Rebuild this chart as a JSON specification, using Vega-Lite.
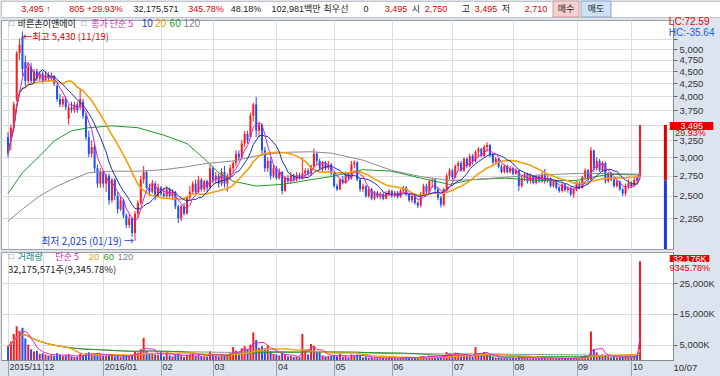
{
"$schema": "https://vega.github.io/schema/vega-lite/v6.json",
"padding": 0,
"background": "#dbe4ef",
"spacing": 3,
"bounds": "flush",
"config": {
  "view": {"stroke": "#a0a0a0", "fill": "#ffffff"},
  "font": "Liberation Sans, Noto Sans CJK KR",
  "text": {"font": "Liberation Sans, Noto Sans CJK KR"},
  "axis": {"labelFont": "Liberation Sans", "labelFontSize": 10, "labelColor": "#333333", "gridColor": "#dcdcdc", "domainColor": "#8a8a8a", "tickColor": "#666666", "labelOverlap": false, "labelFlush": false}
},
"datasets": {
"hdr": [
{"n":3,"s":"3,495 ↑","r":1,"btn":""},
{"n":9,"s":"805 +29.93%","r":1,"btn":""},
{"n":15,"s":"32,175,571","r":0,"btn":""},
{"n":20,"s":"345.78%","r":1,"btn":""},
{"n":24,"s":"48.18%","r":0,"btn":""},
{"n":29,"s":"102,981백만","r":0,"btn":""},
{"n":33,"s":"최우선","r":0,"btn":""},
{"n":36,"s":"0","r":0,"btn":""},
{"n":39,"s":"3,495","r":1,"btn":""},
{"n":41,"s":"시","r":0,"btn":""},
{"n":43,"s":"2,750","r":1,"btn":""},
{"n":46,"s":"고","r":0,"btn":""},
{"n":48,"s":"3,495","r":1,"btn":""},
{"n":50,"s":"저","r":0,"btn":""},
{"n":53,"s":"2,710","r":1,"btn":""},
{"n":56,"s":"매수","r":0,"btn":"buy"},
{"n":59,"s":"매도","r":0,"btn":"sell"}
],
"ma": [
{"i":0,"m60":2530,"m120":2220},{"i":5,"m60":2790,"m120":2350},{"i":11,"m60":3020,"m120":2500},{"i":16,"m60":3240,"m120":2600},{"i":22,"m60":3400,"m120":2700},{"i":28,"m60":3450,"m120":2790},{"i":36,"m60":3480,"m120":2810},{"i":45,"m60":3450,"m120":2810},{"i":54,"m60":3330,"m120":2830},{"i":62,"m60":3200,"m120":2870},{"i":68,"m60":2980,"m120":2910},{"i":73,"m60":2790,"m120":2930},{"i":78,"m60":2680,"m120":2950},{"i":86,"m60":2620,"m120":3020},{"i":95,"m60":2640,"m120":3070},{"i":105,"m60":2700,"m120":3080},{"i":112,"m60":2740,"m120":3060},{"i":123,"m60":2830,"m120":2960},{"i":133,"m60":2810,"m120":2820},{"i":143,"m60":2720,"m120":2740},{"i":153,"m60":2640,"m120":2690},{"i":161,"m60":2700,"m120":2700},{"i":172,"m60":2720,"m120":2730},{"i":184,"m60":2690,"m120":2760},{"i":197,"m60":2690,"m120":2780},{"i":208,"m60":2770,"m120":2780},{"i":219,"m60":2760,"m120":2770}
],
"px": [
{"i":0,"o":3300,"h":3380,"l":3000,"c":3050,"v":4500},
{"i":1,"o":3250,"h":3500,"l":3100,"c":3450,"v":6000},
{"i":2,"o":3450,"h":3900,"l":3400,"c":3850,"v":8500},
{"i":3,"o":3950,"h":4950,"l":3900,"c":4900,"v":11000},
{"i":4,"o":4900,"h":5250,"l":4750,"c":5100,"v":9500},
{"i":5,"o":5300,"h":5430,"l":4400,"c":4550,"v":10500},
{"i":6,"o":4700,"h":4850,"l":4200,"c":4300,"v":7000},
{"i":7,"o":4300,"h":4700,"l":4250,"c":4600,"v":5000},
{"i":8,"o":4600,"h":4680,"l":4250,"c":4300,"v":3500},
{"i":9,"o":4300,"h":4550,"l":4250,"c":4500,"v":2800},
{"i":10,"o":4500,"h":4550,"l":4300,"c":4350,"v":3000},
{"i":11,"o":4350,"h":4500,"l":4300,"c":4450,"v":2000},
{"i":12,"o":4450,"h":4500,"l":4250,"c":4300,"v":2200},
{"i":13,"o":4300,"h":4500,"l":4280,"c":4420,"v":1800},
{"i":14,"o":4420,"h":4480,"l":4300,"c":4350,"v":1500},
{"i":15,"o":4350,"h":4480,"l":4300,"c":4400,"v":1600},
{"i":16,"o":4400,"h":4420,"l":4200,"c":4250,"v":1400},
{"i":17,"o":4200,"h":4250,"l":3900,"c":3950,"v":2200},
{"i":18,"o":3950,"h":4050,"l":3800,"c":3850,"v":1600},
{"i":19,"o":3850,"h":4000,"l":3800,"c":3950,"v":1300},
{"i":20,"o":3950,"h":4000,"l":3750,"c":3800,"v":1500},
{"i":21,"o":3600,"h":3850,"l":3500,"c":3800,"v":1800},
{"i":22,"o":3800,"h":3900,"l":3700,"c":3750,"v":1200},
{"i":23,"o":3750,"h":3900,"l":3700,"c":3850,"v":1000},
{"i":24,"o":3850,"h":3900,"l":3700,"c":3750,"v":1100},
{"i":25,"o":3800,"h":4150,"l":3750,"c":3950,"v":2000},
{"i":26,"o":3900,"h":3950,"l":3600,"c":3650,"v":1500},
{"i":27,"o":3650,"h":3700,"l":3250,"c":3300,"v":2200},
{"i":28,"o":3300,"h":3400,"l":3000,"c":3050,"v":2500},
{"i":29,"o":3050,"h":3250,"l":3000,"c":3150,"v":1800},
{"i":30,"o":3150,"h":3200,"l":2800,"c":2850,"v":2000},
{"i":31,"o":2850,"h":2900,"l":2600,"c":2650,"v":2300},
{"i":32,"o":2650,"h":2850,"l":2600,"c":2800,"v":1600},
{"i":33,"o":2800,"h":2820,"l":2600,"c":2650,"v":1500},
{"i":34,"o":2650,"h":2780,"l":2550,"c":2750,"v":1400},
{"i":35,"o":2750,"h":2780,"l":2400,"c":2450,"v":1600},
{"i":36,"o":2450,"h":2720,"l":2420,"c":2700,"v":1800},
{"i":37,"o":2700,"h":2720,"l":2450,"c":2500,"v":1200},
{"i":38,"o":2500,"h":2550,"l":2300,"c":2350,"v":1300},
{"i":39,"o":2350,"h":2500,"l":2330,"c":2450,"v":1100},
{"i":40,"o":2450,"h":2470,"l":2250,"c":2280,"v":1400},
{"i":41,"o":2280,"h":2300,"l":2150,"c":2180,"v":1600},
{"i":42,"o":2180,"h":2300,"l":2150,"c":2250,"v":1300},
{"i":43,"o":2250,"h":2260,"l":2060,"c":2100,"v":1700},
{"i":44,"o":2100,"h":2330,"l":2025,"c":2300,"v":2800},
{"i":45,"o":2300,"h":2450,"l":2250,"c":2420,"v":2400},
{"i":46,"o":2420,"h":2750,"l":2400,"c":2700,"v":3500},
{"i":47,"o":2700,"h":2880,"l":2650,"c":2800,"v":7200},
{"i":48,"o":2800,"h":2820,"l":2580,"c":2600,"v":3000},
{"i":49,"o":2600,"h":2650,"l":2500,"c":2550,"v":2000},
{"i":50,"o":2550,"h":2700,"l":2530,"c":2650,"v":2300},
{"i":51,"o":2650,"h":2680,"l":2450,"c":2500,"v":1800},
{"i":52,"o":2500,"h":2650,"l":2480,"c":2600,"v":1700},
{"i":53,"o":2600,"h":2620,"l":2500,"c":2530,"v":2800},
{"i":54,"o":2530,"h":2600,"l":2480,"c":2500,"v":1200},
{"i":55,"o":2500,"h":2620,"l":2480,"c":2580,"v":2600},
{"i":56,"o":2580,"h":2600,"l":2480,"c":2500,"v":1500},
{"i":57,"o":2500,"h":2580,"l":2450,"c":2550,"v":1200},
{"i":58,"o":2550,"h":2560,"l":2350,"c":2380,"v":1800},
{"i":59,"o":2380,"h":2400,"l":2200,"c":2250,"v":2000},
{"i":60,"o":2250,"h":2400,"l":2220,"c":2380,"v":1600},
{"i":61,"o":2380,"h":2420,"l":2280,"c":2300,"v":1000},
{"i":62,"o":2300,"h":2500,"l":2290,"c":2480,"v":1500},
{"i":63,"o":2480,"h":2620,"l":2450,"c":2550,"v":1800},
{"i":64,"o":2550,"h":2680,"l":2520,"c":2650,"v":2600},
{"i":65,"o":2650,"h":2700,"l":2520,"c":2550,"v":1400},
{"i":66,"o":2550,"h":2750,"l":2530,"c":2700,"v":1700},
{"i":67,"o":2700,"h":2720,"l":2550,"c":2580,"v":1300},
{"i":68,"o":2580,"h":2700,"l":2550,"c":2680,"v":1200},
{"i":69,"o":2680,"h":2700,"l":2550,"c":2600,"v":1100},
{"i":70,"o":2600,"h":2900,"l":2580,"c":2850,"v":2800},
{"i":71,"o":2850,"h":2870,"l":2650,"c":2700,"v":1800},
{"i":72,"o":2700,"h":2800,"l":2650,"c":2750,"v":1300},
{"i":73,"o":2750,"h":2780,"l":2600,"c":2650,"v":1200},
{"i":74,"o":2650,"h":2850,"l":2620,"c":2800,"v":1800},
{"i":75,"o":2800,"h":2880,"l":2600,"c":2650,"v":1500},
{"i":76,"o":2650,"h":2780,"l":2550,"c":2750,"v":1400},
{"i":77,"o":2750,"h":2900,"l":2700,"c":2850,"v":2200},
{"i":78,"o":2850,"h":2950,"l":2780,"c":2920,"v":4200},
{"i":79,"o":2920,"h":3100,"l":2880,"c":3050,"v":3000},
{"i":80,"o":3050,"h":3100,"l":2950,"c":3000,"v":2200},
{"i":81,"o":3000,"h":3250,"l":2980,"c":3200,"v":3800},
{"i":82,"o":3200,"h":3400,"l":3150,"c":3350,"v":4500},
{"i":83,"o":3350,"h":3400,"l":3200,"c":3250,"v":3500},
{"i":84,"o":3300,"h":3700,"l":3280,"c":3650,"v":5000},
{"i":85,"o":3650,"h":3880,"l":3550,"c":3850,"v":9000},
{"i":86,"o":3850,"h":3990,"l":3300,"c":3400,"v":6500},
{"i":87,"o":3400,"h":3550,"l":3300,"c":3500,"v":4000},
{"i":88,"o":3500,"h":3520,"l":3050,"c":3100,"v":4500},
{"i":89,"o":3100,"h":3150,"l":2800,"c":2850,"v":3800},
{"i":90,"o":2850,"h":3000,"l":2800,"c":2950,"v":4800},
{"i":91,"o":2950,"h":3000,"l":2700,"c":2750,"v":2800},
{"i":92,"o":2750,"h":2900,"l":2720,"c":2850,"v":2000},
{"i":93,"o":2850,"h":2880,"l":2700,"c":2720,"v":1800},
{"i":94,"o":2720,"h":2850,"l":2700,"c":2800,"v":1500},
{"i":95,"o":2800,"h":2810,"l":2520,"c":2560,"v":2200},
{"i":96,"o":2560,"h":2750,"l":2550,"c":2720,"v":1800},
{"i":97,"o":2720,"h":2760,"l":2650,"c":2680,"v":1200},
{"i":98,"o":2680,"h":2800,"l":2650,"c":2750,"v":1300},
{"i":99,"o":2750,"h":2780,"l":2680,"c":2700,"v":1000},
{"i":100,"o":2700,"h":2800,"l":2680,"c":2760,"v":1100},
{"i":101,"o":2760,"h":2790,"l":2700,"c":2720,"v":900},
{"i":102,"o":2720,"h":3000,"l":2700,"c":2780,"v":8500},
{"i":103,"o":2780,"h":2850,"l":2720,"c":2820,"v":3000},
{"i":104,"o":2820,"h":2850,"l":2750,"c":2780,"v":1800},
{"i":105,"o":2780,"h":2900,"l":2750,"c":2880,"v":5200},
{"i":106,"o":2880,"h":3130,"l":2850,"c":3050,"v":4500},
{"i":107,"o":3050,"h":3080,"l":2900,"c":2950,"v":2500},
{"i":108,"o":2950,"h":2980,"l":2820,"c":2850,"v":2600},
{"i":109,"o":2850,"h":2950,"l":2800,"c":2920,"v":1500},
{"i":110,"o":2920,"h":2950,"l":2820,"c":2850,"v":1200},
{"i":111,"o":2850,"h":2950,"l":2820,"c":2900,"v":1300},
{"i":112,"o":2900,"h":2920,"l":2750,"c":2780,"v":1400},
{"i":113,"o":2780,"h":2800,"l":2600,"c":2620,"v":1600},
{"i":114,"o":2620,"h":2650,"l":2560,"c":2580,"v":1200},
{"i":115,"o":2580,"h":2720,"l":2570,"c":2700,"v":2000},
{"i":116,"o":2700,"h":2750,"l":2640,"c":2660,"v":1100},
{"i":117,"o":2660,"h":2800,"l":2650,"c":2780,"v":1300},
{"i":118,"o":2780,"h":2800,"l":2700,"c":2720,"v":900},
{"i":119,"o":2720,"h":2950,"l":2700,"c":2900,"v":1800},
{"i":120,"o":2900,"h":2960,"l":2850,"c":2930,"v":1500},
{"i":121,"o":2930,"h":2950,"l":2680,"c":2700,"v":1800},
{"i":122,"o":2700,"h":2720,"l":2550,"c":2580,"v":1400},
{"i":123,"o":2580,"h":2650,"l":2550,"c":2620,"v":900},
{"i":124,"o":2620,"h":2630,"l":2480,"c":2500,"v":1100},
{"i":125,"o":2500,"h":2620,"l":2480,"c":2580,"v":800},
{"i":126,"o":2580,"h":2600,"l":2450,"c":2470,"v":900},
{"i":127,"o":2470,"h":2560,"l":2450,"c":2540,"v":700},
{"i":128,"o":2540,"h":2560,"l":2470,"c":2490,"v":600},
{"i":129,"o":2490,"h":2550,"l":2460,"c":2520,"v":600},
{"i":130,"o":2520,"h":2540,"l":2450,"c":2470,"v":700},
{"i":131,"o":2470,"h":2560,"l":2460,"c":2530,"v":600},
{"i":132,"o":2530,"h":2580,"l":2500,"c":2560,"v":800},
{"i":133,"o":2560,"h":2570,"l":2480,"c":2500,"v":700},
{"i":134,"o":2500,"h":2560,"l":2480,"c":2540,"v":600},
{"i":135,"o":2540,"h":2560,"l":2470,"c":2490,"v":500},
{"i":136,"o":2490,"h":2580,"l":2480,"c":2560,"v":700},
{"i":137,"o":2560,"h":2620,"l":2540,"c":2600,"v":900},
{"i":138,"o":2600,"h":2620,"l":2500,"c":2520,"v":800},
{"i":139,"o":2520,"h":2540,"l":2430,"c":2450,"v":700},
{"i":140,"o":2450,"h":2520,"l":2420,"c":2500,"v":600},
{"i":141,"o":2500,"h":2510,"l":2400,"c":2420,"v":700},
{"i":142,"o":2420,"h":2440,"l":2360,"c":2390,"v":900},
{"i":143,"o":2390,"h":2550,"l":2370,"c":2520,"v":1200},
{"i":144,"o":2520,"h":2650,"l":2500,"c":2620,"v":1300},
{"i":145,"o":2620,"h":2650,"l":2520,"c":2550,"v":900},
{"i":146,"o":2550,"h":2700,"l":2530,"c":2680,"v":1400},
{"i":147,"o":2680,"h":2720,"l":2600,"c":2700,"v":1000},
{"i":148,"o":2700,"h":2720,"l":2550,"c":2580,"v":900},
{"i":149,"o":2580,"h":2600,"l":2450,"c":2480,"v":800},
{"i":150,"o":2480,"h":2500,"l":2370,"c":2400,"v":1000},
{"i":151,"o":2400,"h":2600,"l":2380,"c":2580,"v":1500},
{"i":152,"o":2580,"h":2780,"l":2560,"c":2750,"v":2600},
{"i":153,"o":2750,"h":2850,"l":2700,"c":2820,"v":2200},
{"i":154,"o":2820,"h":2840,"l":2700,"c":2730,"v":1500},
{"i":155,"o":2730,"h":2900,"l":2720,"c":2880,"v":2400},
{"i":156,"o":2880,"h":2950,"l":2820,"c":2920,"v":2000},
{"i":157,"o":2920,"h":2950,"l":2800,"c":2820,"v":1200},
{"i":158,"o":2820,"h":3000,"l":2800,"c":2980,"v":1800},
{"i":159,"o":2980,"h":3000,"l":2850,"c":2880,"v":1300},
{"i":160,"o":2880,"h":3050,"l":2860,"c":3020,"v":1600},
{"i":161,"o":3020,"h":3050,"l":2900,"c":2950,"v":1100},
{"i":162,"o":2950,"h":3100,"l":2930,"c":3080,"v":4200},
{"i":163,"o":3080,"h":3150,"l":3000,"c":3120,"v":2000},
{"i":164,"o":3120,"h":3140,"l":3000,"c":3020,"v":1500},
{"i":165,"o":3020,"h":3180,"l":3000,"c":3150,"v":2600},
{"i":166,"o":3150,"h":3220,"l":3080,"c":3180,"v":2000},
{"i":167,"o":3180,"h":3200,"l":3000,"c":3030,"v":1500},
{"i":168,"o":3030,"h":3060,"l":2900,"c":2930,"v":1000},
{"i":169,"o":2930,"h":3000,"l":2900,"c":2980,"v":800},
{"i":170,"o":2980,"h":3000,"l":2850,"c":2870,"v":900},
{"i":171,"o":2870,"h":2900,"l":2780,"c":2800,"v":800},
{"i":172,"o":2800,"h":2900,"l":2780,"c":2880,"v":700},
{"i":173,"o":2880,"h":2900,"l":2780,"c":2800,"v":600},
{"i":174,"o":2800,"h":2880,"l":2780,"c":2850,"v":600},
{"i":175,"o":2850,"h":2870,"l":2760,"c":2780,"v":700},
{"i":176,"o":2780,"h":2850,"l":2760,"c":2820,"v":600},
{"i":177,"o":2820,"h":2830,"l":2560,"c":2620,"v":1200},
{"i":178,"o":2620,"h":2750,"l":2600,"c":2720,"v":900},
{"i":179,"o":2720,"h":2800,"l":2680,"c":2770,"v":800},
{"i":180,"o":2770,"h":2790,"l":2650,"c":2680,"v":700},
{"i":181,"o":2680,"h":2780,"l":2650,"c":2750,"v":600},
{"i":182,"o":2750,"h":2760,"l":2640,"c":2660,"v":600},
{"i":183,"o":2660,"h":2760,"l":2640,"c":2740,"v":500},
{"i":184,"o":2740,"h":2760,"l":2660,"c":2680,"v":500},
{"i":185,"o":2680,"h":2800,"l":2660,"c":2760,"v":700},
{"i":186,"o":2760,"h":2840,"l":2650,"c":2680,"v":900},
{"i":187,"o":2680,"h":2760,"l":2660,"c":2720,"v":500},
{"i":188,"o":2720,"h":2730,"l":2600,"c":2620,"v":600},
{"i":189,"o":2620,"h":2700,"l":2600,"c":2680,"v":500},
{"i":190,"o":2680,"h":2690,"l":2580,"c":2600,"v":500},
{"i":191,"o":2600,"h":2620,"l":2540,"c":2560,"v":600},
{"i":192,"o":2560,"h":2660,"l":2540,"c":2640,"v":500},
{"i":193,"o":2640,"h":2650,"l":2550,"c":2570,"v":400},
{"i":194,"o":2570,"h":2620,"l":2540,"c":2600,"v":400},
{"i":195,"o":2600,"h":2610,"l":2500,"c":2520,"v":600},
{"i":196,"o":2520,"h":2600,"l":2480,"c":2580,"v":700},
{"i":197,"o":2580,"h":2680,"l":2560,"c":2660,"v":900},
{"i":198,"o":2660,"h":2680,"l":2580,"c":2600,"v":600},
{"i":199,"o":2600,"h":2750,"l":2590,"c":2730,"v":1200},
{"i":200,"o":2730,"h":2850,"l":2700,"c":2820,"v":1500},
{"i":201,"o":2820,"h":2840,"l":2650,"c":2700,"v":1100},
{"i":202,"o":2700,"h":3150,"l":2690,"c":3100,"v":9300},
{"i":203,"o":3100,"h":3110,"l":2800,"c":2850,"v":3500},
{"i":204,"o":2850,"h":3000,"l":2820,"c":2950,"v":2500},
{"i":205,"o":2950,"h":2980,"l":2800,"c":2820,"v":1600},
{"i":206,"o":2820,"h":2950,"l":2800,"c":2920,"v":1800},
{"i":207,"o":2920,"h":2940,"l":2650,"c":2680,"v":1400},
{"i":208,"o":2680,"h":2800,"l":2660,"c":2780,"v":1200},
{"i":209,"o":2780,"h":2800,"l":2680,"c":2700,"v":900},
{"i":210,"o":2700,"h":2720,"l":2600,"c":2620,"v":1000},
{"i":211,"o":2620,"h":2700,"l":2600,"c":2680,"v":800},
{"i":212,"o":2680,"h":2690,"l":2560,"c":2580,"v":900},
{"i":213,"o":2580,"h":2600,"l":2500,"c":2530,"v":1000},
{"i":214,"o":2530,"h":2650,"l":2500,"c":2620,"v":1100},
{"i":215,"o":2620,"h":2700,"l":2580,"c":2660,"v":900},
{"i":216,"o":2660,"h":2680,"l":2600,"c":2620,"v":800},
{"i":217,"o":2620,"h":2720,"l":2610,"c":2700,"v":1000},
{"i":218,"o":2720,"h":2740,"l":2670,"c":2690,"v":1400},
{"i":219,"o":2750,"h":3495,"l":2710,"c":3495,"v":32176}
]
},
"vconcat": [
{
  "width": 720, "height": 16,
  "view": {"stroke": "#c4c4c4", "fill": "#ffffff"},
  "data": {"name": "hdr"},
  "encoding": {"x": {"field": "n", "type": "ordinal", "axis": null, "scale": {"domain": [0,1,2,3,4,5,6,7,8,9,10,11,12,13,14,15,16,17,18,19,20,21,22,23,24,25,26,27,28,29,30,31,32,33,34,35,36,37,38,39,40,41,42,43,44,45,46,47,48,49,50,51,52,53,54,55,56,57,58,59,60,61,62,63,64,65,66,67,68,69,70,71], "paddingInner": 0, "paddingOuter": 0}}},
  "layer": [
    {"transform": [{"filter": "datum.btn == 'buy'"}], "mark": {"type": "rect", "width": 26, "fill": "#f7cfcf", "stroke": "#c9a0a0", "strokeWidth": 1}},
    {"transform": [{"filter": "datum.btn == 'sell'"}], "mark": {"type": "rect", "width": 30, "fill": "#cfe0f5", "stroke": "#90a8c8", "strokeWidth": 1}},
    {"mark": {"type": "text", "align": "center", "fontSize": 9}, "encoding": {"text": {"field": "s"}, "color": {"condition": {"test": "datum.r == 1", "value": "#e00000"}, "value": "#222222"}}}
  ]
},
{
  "width": 672, "height": 229,
  "data": {"values": [{}]},
  "layer": [
    {
      "data": {"name": "px"},
      "mark": {"type": "rule", "strokeWidth": 1},
      "encoding": {
        "x": {"field": "i", "type": "quantitative", "title": null, "scale": {"domain": [-0.7, 228.7], "nice": false, "zero": false}, "axis": {"values": [0,12,33,53,71,93,113,133,154,175,197,216], "grid": true, "labels": false, "ticks": false, "domain": false, "title": null}},
        "y": {"field": "l", "type": "quantitative", "title": null, "scale": {"type": "log", "domain": [1947, 5733], "nice": false}, "axis": {"orient": "right", "title": null, "values": [2250,2500,2750,3000,3250,3500,3750,4000,4250,4500,4750,5000,5250], "labelExpr": "datum.value == 3500 || datum.value == 5250 ? '' : format(datum.value, ',')", "grid": true, "tickSize": 4, "labelPadding": 2, "labelFontSize": 9.5}},
        "y2": {"field": "h"},
        "color": {"condition": {"test": "datum.c >= datum.o", "value": "#ff1a1a"}, "value": "#1a4fff"}
      }
    },
    {
      "data": {"name": "px"},
      "mark": {"type": "bar", "width": 2},
      "encoding": {
        "x": {"field": "i", "type": "quantitative"},
        "y": {"field": "o", "type": "quantitative"},
        "y2": {"field": "c"},
        "color": {"condition": {"test": "datum.c >= datum.o", "value": "#ff1a1a"}, "value": "#1a4fff"}
      }
    },
    {
      "data": {"name": "ma"},
      "mark": {"type": "line", "strokeWidth": 1, "color": "#1f9a2a"},
      "encoding": {"x": {"field": "i", "type": "quantitative"}, "y": {"field": "m60", "type": "quantitative"}}
    },
    {
      "data": {"name": "ma"},
      "mark": {"type": "line", "strokeWidth": 1, "color": "#8c8c8c"},
      "encoding": {"x": {"field": "i", "type": "quantitative"}, "y": {"field": "m120", "type": "quantitative"}}
    },
    {
      "data": {"name": "px"},
      "transform": [
        {"window": [{"op": "mean", "field": "c", "as": "m5"}], "frame": [-4, 0], "sort": [{"field": "i"}]},
        {"window": [{"op": "mean", "field": "c", "as": "m10"}], "frame": [-9, 0], "sort": [{"field": "i"}]},
        {"window": [{"op": "mean", "field": "c", "as": "m20"}], "frame": [-19, 0], "sort": [{"field": "i"}]}
      ],
      "layer": [
        {"mark": {"type": "line", "strokeWidth": 1.6, "color": "#f0a010"}, "encoding": {"x": {"field": "i", "type": "quantitative"}, "y": {"field": "m20", "type": "quantitative"}}},
        {"mark": {"type": "line", "strokeWidth": 1, "color": "#1c2fa0"}, "encoding": {"x": {"field": "i", "type": "quantitative"}, "y": {"field": "m10", "type": "quantitative"}}},
        {"mark": {"type": "line", "strokeWidth": 1, "color": "#e020c8"}, "encoding": {"x": {"field": "i", "type": "quantitative"}, "y": {"field": "m5", "type": "quantitative"}}}
      ]
    },
    {"mark": {"type": "rule", "strokeWidth": 3, "color": "#e00000"}, "encoding": {"x": {"datum": 227.8}, "y": {"datum": 3495}, "y2": {"datum": 2690}}},
    {"mark": {"type": "rule", "strokeWidth": 3, "color": "#1a3fd0"}, "encoding": {"x": {"datum": 227.8}, "y": {"datum": 2690}, "y2": {"datum": 1947}}},
    {"mark": {"type": "text", "align": "left", "baseline": "middle", "fontSize": 8, "color": "#555555"}, "encoding": {"x": {"datum": 0.3}, "y": {"datum": 5625}, "text": {"value": "□"}}},
    {"mark": {"type": "text", "align": "left", "baseline": "middle", "fontSize": 9, "color": "#111111", "font": "Noto Sans CJK KR"}, "encoding": {"x": {"datum": 3.4}, "y": {"datum": 5625}, "text": {"value": "바른손이앤에이"}}},
    {"mark": {"type": "text", "align": "left", "baseline": "middle", "fontSize": 8, "color": "#555555"}, "encoding": {"x": {"datum": 25.4}, "y": {"datum": 5625}, "text": {"value": "□"}}},
    {"mark": {"type": "text", "align": "left", "baseline": "middle", "fontSize": 9, "color": "#d818b8", "font": "Noto Sans CJK KR"}, "encoding": {"x": {"datum": 28.8}, "y": {"datum": 5625}, "text": {"value": "종가 단순 5"}}},
    {"mark": {"type": "text", "align": "left", "baseline": "middle", "fontSize": 10, "color": "#2234b0"}, "encoding": {"x": {"datum": 46.3}, "y": {"datum": 5625}, "text": {"value": "10"}}},
    {"mark": {"type": "text", "align": "left", "baseline": "middle", "fontSize": 10, "color": "#e0a000"}, "encoding": {"x": {"datum": 51.0}, "y": {"datum": 5625}, "text": {"value": "20"}}},
    {"mark": {"type": "text", "align": "left", "baseline": "middle", "fontSize": 10, "color": "#209a2a"}, "encoding": {"x": {"datum": 56.0}, "y": {"datum": 5625}, "text": {"value": "60"}}},
    {"mark": {"type": "text", "align": "left", "baseline": "middle", "fontSize": 10, "color": "#808080"}, "encoding": {"x": {"datum": 60.8}, "y": {"datum": 5625}, "text": {"value": "120"}}},
    {"mark": {"type": "text", "align": "left", "baseline": "middle", "fontSize": 9.5, "color": "#e00000", "font": "Noto Sans CJK KR"}, "encoding": {"x": {"datum": 5.1}, "y": {"datum": 5300}, "text": {"value": "←최고 5,430 (11/19)"}}},
    {"mark": {"type": "text", "align": "right", "baseline": "middle", "fontSize": 10, "color": "#1a3fd0", "font": "Noto Sans CJK KR"}, "encoding": {"x": {"datum": 43.7}, "y": {"datum": 2012}, "text": {"value": "최저 2,025 (01/19) →"}}},
    {"mark": {"type": "text", "align": "left", "baseline": "middle", "fontSize": 10, "color": "#e00000"}, "encoding": {"x": {"datum": 229.0}, "y": {"datum": 5666}, "text": {"value": "LC:72.59"}}},
    {"mark": {"type": "text", "align": "left", "baseline": "middle", "fontSize": 10, "color": "#2060d0"}, "encoding": {"x": {"datum": 229.0}, "y": {"datum": 5392}, "text": {"value": "HC:-35.64"}}},
    {"mark": {"type": "rect", "color": "#e80000"}, "encoding": {"x": {"datum": 229.3}, "x2": {"datum": 244.4}, "y": {"datum": 3544}, "y2": {"datum": 3414}}},
    {"mark": {"type": "text", "align": "center", "baseline": "middle", "fontSize": 9, "color": "#ffffff"}, "encoding": {"x": {"datum": 236.9}, "y": {"datum": 3481}, "text": {"value": "3,495"}}},
    {"mark": {"type": "text", "align": "center", "baseline": "middle", "fontSize": 9, "color": "#e00000"}, "encoding": {"x": {"datum": 236.5}, "y": {"datum": 3365}, "text": {"value": "29.93%"}}}
  ]
},
{
  "width": 672, "height": 108,
  "data": {"values": [{}]},
  "layer": [
    {
      "data": {"name": "px"},
      "mark": {"type": "bar", "width": 2},
      "encoding": {
        "x": {"field": "i", "type": "quantitative", "scale": {"domain": [-0.7, 228.7], "nice": false, "zero": false}, "axis": {"values": [0,12,33,53,71,93,113,133,154,175,197,216], "labelExpr": "['2015/11','12','2016/01','02','03','04','05','06','07','08','09','10'][indexof([0,12,33,53,71,93,113,133,154,175,197,216], datum.value)]", "grid": true, "tickSize": 17, "tickColor": "#9aa4b0", "labelPadding": -15, "labelAlign": "left", "labelBaseline": "top", "labelOffset": 1, "labelFontSize": 9, "title": "10/07", "titleX": 672, "titleY": 2, "titleAlign": "left", "titleAnchor": "start", "titleBaseline": "top", "titleFontSize": 9.5, "titleFontWeight": "normal", "titleColor": "#333333"}},
        "y": {"field": "v", "type": "quantitative", "scale": {"domain": [0, 35200], "nice": false}, "axis": {"orient": "right", "title": null, "values": [5000,10000,15000,20000,25000,30000], "labelExpr": "datum.value >= 30000 ? '' : format(datum.value, ',') + 'K'", "grid": true, "tickSize": 4, "labelPadding": 2, "labelFontSize": 9.5}},
        "color": {"condition": {"test": "datum.c >= datum.o", "value": "#ff1a1a"}, "value": "#1a4fff"}
      }
    },
    {
      "data": {"name": "px"},
      "transform": [
        {"window": [{"op": "mean", "field": "v", "as": "v5"}], "frame": [-4, 0], "sort": [{"field": "i"}]},
        {"window": [{"op": "mean", "field": "v", "as": "v20"}], "frame": [-19, 0], "sort": [{"field": "i"}]},
        {"window": [{"op": "mean", "field": "v", "as": "v60"}], "frame": [-59, 0], "sort": [{"field": "i"}]},
        {"window": [{"op": "mean", "field": "v", "as": "v120"}], "frame": [-119, 0], "sort": [{"field": "i"}]}
      ],
      "layer": [
        {"mark": {"type": "line", "strokeWidth": 1, "color": "#8c8c8c"}, "encoding": {"x": {"field": "i", "type": "quantitative"}, "y": {"field": "v120", "type": "quantitative"}}},
        {"mark": {"type": "line", "strokeWidth": 1, "color": "#1f9a2a"}, "encoding": {"x": {"field": "i", "type": "quantitative"}, "y": {"field": "v60", "type": "quantitative"}}},
        {"mark": {"type": "line", "strokeWidth": 1.4, "color": "#f0a010"}, "encoding": {"x": {"field": "i", "type": "quantitative"}, "y": {"field": "v20", "type": "quantitative"}}},
        {"mark": {"type": "line", "strokeWidth": 1, "color": "#e020c8"}, "encoding": {"x": {"field": "i", "type": "quantitative"}, "y": {"field": "v5", "type": "quantitative"}}}
      ]
    },
    {"mark": {"type": "text", "align": "left", "baseline": "middle", "fontSize": 8, "color": "#555555"}, "encoding": {"x": {"datum": 0.3}, "y": {"datum": 33710}, "text": {"value": "□"}}},
    {"mark": {"type": "text", "align": "left", "baseline": "middle", "fontSize": 9, "color": "#008080", "font": "Noto Sans CJK KR"}, "encoding": {"x": {"datum": 3.4}, "y": {"datum": 33710}, "text": {"value": "거래량"}}},
    {"mark": {"type": "text", "align": "left", "baseline": "middle", "fontSize": 9, "color": "#d818b8", "font": "Noto Sans CJK KR"}, "encoding": {"x": {"datum": 16.4}, "y": {"datum": 33710}, "text": {"value": "단순 5"}}},
    {"mark": {"type": "text", "align": "left", "baseline": "middle", "fontSize": 9.5, "color": "#e0a000"}, "encoding": {"x": {"datum": 28.0}, "y": {"datum": 33710}, "text": {"value": "20"}}},
    {"mark": {"type": "text", "align": "left", "baseline": "middle", "fontSize": 9.5, "color": "#209a2a"}, "encoding": {"x": {"datum": 33.1}, "y": {"datum": 33710}, "text": {"value": "60"}}},
    {"mark": {"type": "text", "align": "left", "baseline": "middle", "fontSize": 9.5, "color": "#808080"}, "encoding": {"x": {"datum": 37.9}, "y": {"datum": 33710}, "text": {"value": "120"}}},
    {"mark": {"type": "text", "align": "left", "baseline": "middle", "fontSize": 9.5, "color": "#222222", "font": "Noto Sans CJK KR"}, "encoding": {"x": {"datum": 0.0}, "y": {"datum": 29400}, "text": {"value": "32,175,571주(9,345.78%)"}}},
    {"mark": {"type": "rect", "color": "#e80000"}, "encoding": {"x": {"datum": 229.3}, "x2": {"datum": 243.0}, "y": {"datum": 34200}, "y2": {"datum": 31920}}},
    {"mark": {"type": "text", "align": "center", "baseline": "middle", "fontSize": 9, "color": "#ffffff"}, "encoding": {"x": {"datum": 236.2}, "y": {"datum": 33060}, "text": {"value": "32,176K"}}},
    {"mark": {"type": "text", "align": "center", "baseline": "middle", "fontSize": 9, "color": "#e00000"}, "encoding": {"x": {"datum": 236.2}, "y": {"datum": 29970}, "text": {"value": "9345.78%"}}}
  ]
}
]
}
